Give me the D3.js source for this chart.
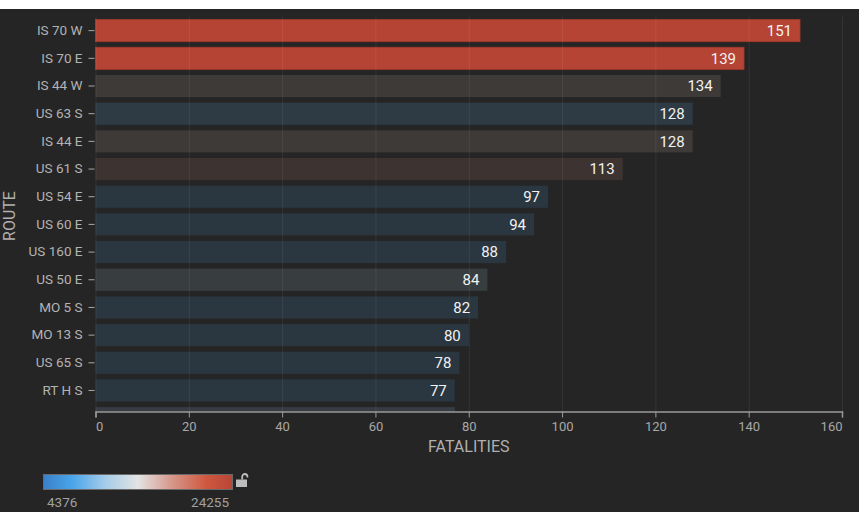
<!DOCTYPE html>
<html><head><meta charset="utf-8">
<script src="https://cdn.jsdelivr.net/npm/d3@7"></script>
<style>
html,body{margin:0;padding:0;background:#252525;overflow:hidden}
svg{display:block;font-family:Roboto,"Noto Sans",sans-serif}
</style></head>
<body>
<svg id="chart" width="859" height="512"></svg>
<script>
// ---- data ----
const routes = ["IS 70 W","IS 70 E","IS 44 W","US 63 S","IS 44 E","US 61 S","US 54 E","US 60 E","US 160 E","US 50 E","MO 5 S","MO 13 S","US 65 S","RT H S","US 67 N"];
const fatalities = [151,139,134,128,128,113,97,94,88,84,82,80,78,77,77];
const colorMetric = [24255,23900,15500,11000,15400,17000,6000,6100,6200,13500,6000,6050,6100,6000,13000];
const xTicks = [0,20,40,60,80,100,120,140,160];
const legendDomain = [4376,24255];
const xTitle = "FATALITIES";
const yTitle = "ROUTE";

(function(){
const W = 859, H = 512;
const svg = d3.select("#chart");
svg.append("rect").attr("width",W).attr("height",H).attr("fill","#252525");
svg.append("rect").attr("width",W).attr("height",9).attr("fill","#ffffff");

const pLeft = 95.5, pRight = 842, axisY = 411.5, pTop = 17;
const x = d3.scaleLinear().domain([0,160]).range([pLeft,pRight]);
const y = d3.scaleBand().domain(routes).range([16.8, 16.8 + 27.68*15]).paddingInner(0.2).paddingOuter(0.1);

// bar colours (dimmed version of legend scale)
const barColor = d3.scaleLinear()
  .domain([4376, 11000, 13500, 15500, 17000, 21000, 24255])
  .range(["#29353f","#2e3a44","#383d40","#3d3a38","#3d3431","#b64434","#b64434"]);

svg.append("defs").append("clipPath").attr("id","plotclip")
  .append("rect").attr("x",pLeft-10).attr("y",pTop).attr("width",pRight-pLeft+20).attr("height",axisY-pTop);

const plot = svg.append("g").attr("clip-path","url(#plotclip)");

plot.selectAll("rect.bar").data(routes).join("rect").attr("class","bar")
  .attr("x",x(0)).attr("y",d=>y(d))
  .attr("width",(d,i)=>x(fatalities[i])-x(0))
  .attr("height",y.bandwidth())
  .attr("fill",(d,i)=>barColor(colorMetric[i]))
  .attr("stroke",(d,i)=>colorMetric[i]>20000?"#a33a2c":"none")
  .attr("stroke-width",0.8);

// gridlines
plot.selectAll("line.grid").data(xTicks).join("line").attr("class","grid")
  .attr("x1",d=>x(d)+0.5).attr("x2",d=>x(d)+0.5)
  .attr("y1",pTop).attr("y2",axisY)
  .attr("stroke","rgba(255,255,255,0.07)").attr("stroke-width",1);

// value labels
plot.selectAll("text.val").data(routes).join("text").attr("class","val")
  .attr("x",(d,i)=>x(fatalities[i])-8)
  .attr("y",d=>y(d)+y.bandwidth()/2)
  .attr("dy","0.36em").attr("text-anchor","end")
  .attr("fill","#f2f2f2").attr("font-size",15)
  .text((d,i)=>fatalities[i]);

// x axis
const xAxis = svg.append("g").attr("transform",`translate(0,${axisY})`)
  .call(d3.axisBottom(x).tickValues(xTicks).tickSize(6).tickSizeOuter(6).tickPadding(4));
xAxis.select(".domain").attr("stroke","#9a9a9a").attr("stroke-width",1.5);
xAxis.selectAll(".tick line").attr("stroke","#9a9a9a");
xAxis.selectAll(".tick text").attr("fill","#a8a8a8").attr("font-size",13).attr("font-family","Roboto")
  .attr("text-anchor",(d,i,n)=>i===0?"start":(i===n.length-1?"end":"middle"));

// y axis
const yAxis = svg.append("g").attr("transform",`translate(${pLeft},0)`)
  .call(d3.axisLeft(y).tickSize(6).tickPadding(7));
yAxis.select(".domain").remove();
yAxis.selectAll(".tick").filter(d=>y(d)+y.bandwidth()/2>axisY).remove();
yAxis.selectAll(".tick line").attr("stroke","#a8a8a8").attr("transform","translate(-1,0)");
yAxis.selectAll(".tick text").attr("fill","#b3b3b3").attr("font-size",13.5).attr("font-family","Roboto");

// titles
svg.append("text").attr("x",(pLeft+pRight)/2).attr("y",452).attr("text-anchor","middle")
  .attr("fill","#b0b0b0").attr("font-size",16).text(xTitle);
svg.append("text").attr("transform","translate(15,216) rotate(-90)").attr("text-anchor","middle")
  .attr("fill","#b0b0b0").attr("font-size",16).text(yTitle);

// legend
const lg = svg.append("defs").append("linearGradient").attr("id","lgrad");
[[0,"#3a80c8"],[0.15,"#49a5ea"],[0.33,"#a6cde8"],[0.5,"#e3e3e3"],[0.68,"#d6978a"],[0.86,"#cf5840"],[1,"#b84536"]]
  .forEach(([o,c])=>lg.append("stop").attr("offset",o).attr("stop-color",c));
const legendX = d3.scaleLinear().domain(legendDomain).range([43,233]);
svg.append("rect").attr("x",legendX(legendDomain[0])+0.5).attr("y",474.5)
  .attr("width",legendX(legendDomain[1])-legendX(legendDomain[0])-1).attr("height",15)
  .attr("fill","url(#lgrad)").attr("stroke","#6a6a6a").attr("stroke-width",1);
svg.append("text").attr("x",legendX(legendDomain[0])+4).attr("y",507).attr("fill","#a0a0a0")
  .attr("font-size",13.5).text(legendDomain[0]);
svg.append("text").attr("x",legendX(legendDomain[1])-4).attr("y",507).attr("text-anchor","end").attr("fill","#a0a0a0")
  .attr("font-size",13.5).text(legendDomain[1]);
// lock icon
const lock = svg.append("g").attr("transform","translate(236,473)");
lock.append("rect").attr("x",0).attr("y",6.5).attr("width",11).attr("height",7.5).attr("fill","#bdbdbd");
lock.append("path").attr("d","M6.2,6.5 V3.6 A2.6,2.6 0 0 1 11.4,3.6 V4.6").attr("fill","none")
  .attr("stroke","#bdbdbd").attr("stroke-width",1.8);
})();
</script>
</body></html>
